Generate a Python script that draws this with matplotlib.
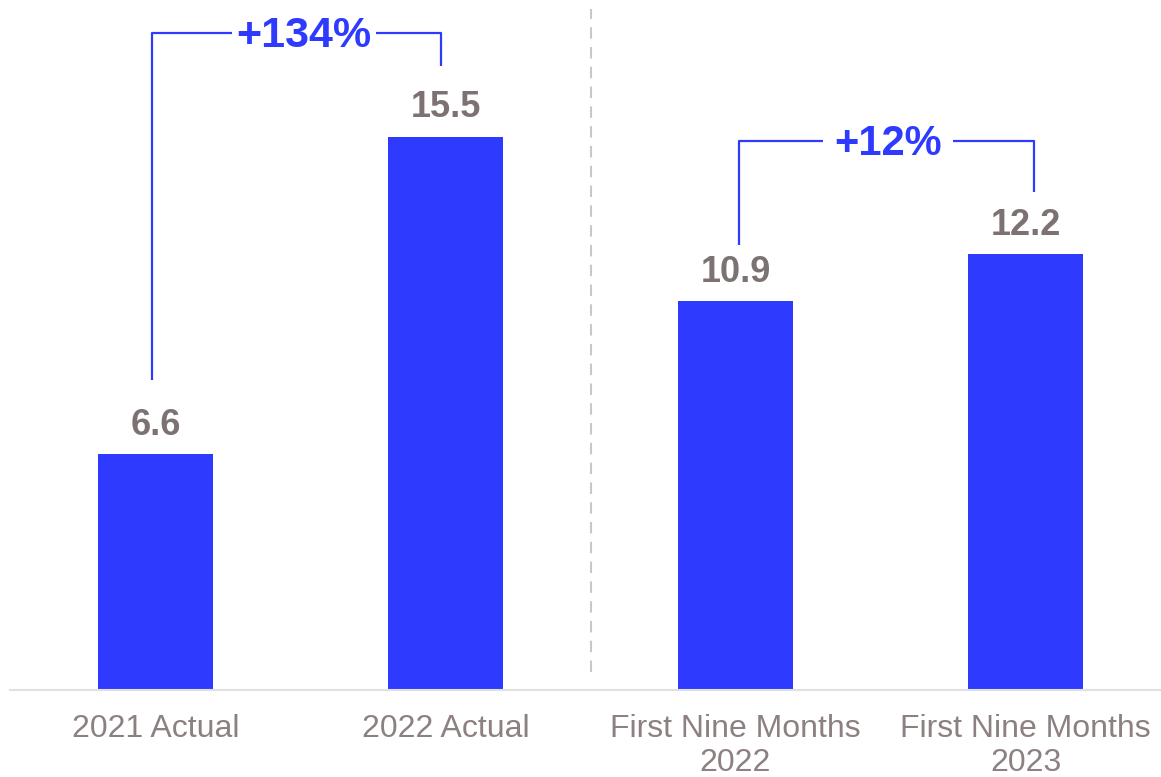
import matplotlib
matplotlib.use('agg')
import matplotlib.pyplot as plt

# data
categories = ["2021 Actual", "2022 Actual", "First Nine Months\n2022", "First Nine Months\n2023"]
values = [6.6, 15.5, 10.9, 12.2]
growth_labels = ["+134%", "+12%"]
growth_pairs = [(0, 1), (2, 3)]

BLUE = "#2E3BFF"
VAL_GRAY = "#7D7272"
TICK_GRAY = "#8C8080"

plt.rcParams['font.family'] = ['Liberation Sans', 'DejaVu Sans']

W, H = 1161, 777
fig = plt.figure(figsize=(W / 100, H / 100), dpi=100)
# axes covers from the baseline up to the top edge
ax = fig.add_axes([10 / W, 1 - 690 / H, 1 - 10 / W, 690 / H])

px_unit = 290.0
x0 = 155.5
ax.set_xlim((10 - x0) / px_unit, (W - x0) / px_unit)
ax.set_ylim(0, 690 / 35.7)

ax.bar(range(len(values)), values, width=115 / px_unit, color=BLUE, zorder=2)

for s in ['top', 'right', 'left']:
    ax.spines[s].set_visible(False)
ax.spines['bottom'].set_color('#E0E0E0')
ax.spines['bottom'].set_linewidth(1.5)
ax.set_yticks([])
ax.set_xticks(range(len(categories)))
ax.set_xticklabels(categories, fontsize=23, color=TICK_GRAY, linespacing=1.2)
ax.tick_params(axis='x', length=0, pad=17)

# value labels
for i, v in enumerate(values):
    ax.text(i, v + 0.54, f"{v}", ha='center', va='baseline', fontsize=26,
            fontweight='bold', color=VAL_GRAY, clip_on=False)

# separator
ax.plot([1.5, 1.5], [0.5, 19.08], color='#C8C8C8', lw=1.5,
        linestyle=(0, (5.5, 4)), clip_on=False)

# growth brackets: (x offsets, top y, left end, right end, text x, half gap, baseline)
bracket_style = [
    dict(dx=(-0.012, -0.016), top=18.41, lend=8.69, rend=17.49, tx=0.512, gap=0.248, base=18.01, fs=31),
    dict(dx=(0.012, 0.029), top=15.37, lend=12.47, rend=13.94, tx=2.526, gap=0.224, base=14.99, fs=30),
]
for (a, b), lab, st in zip(growth_pairs, growth_labels, bracket_style):
    xl = a + st['dx'][0]
    xr = b + st['dx'][1]
    ax.plot([xl, xl, st['tx'] - st['gap']], [st['lend'], st['top'], st['top']],
            color=BLUE, lw=1.6, clip_on=False, solid_capstyle='butt')
    ax.plot([st['tx'] + st['gap'], xr, xr], [st['top'], st['top'], st['rend']],
            color=BLUE, lw=1.6, clip_on=False, solid_capstyle='butt')
    ax.text(st['tx'], st['base'], lab, ha='center', va='baseline', fontsize=st['fs'],
            fontweight='bold', color=BLUE, clip_on=False)

fig.savefig('out.png', dpi=100)
